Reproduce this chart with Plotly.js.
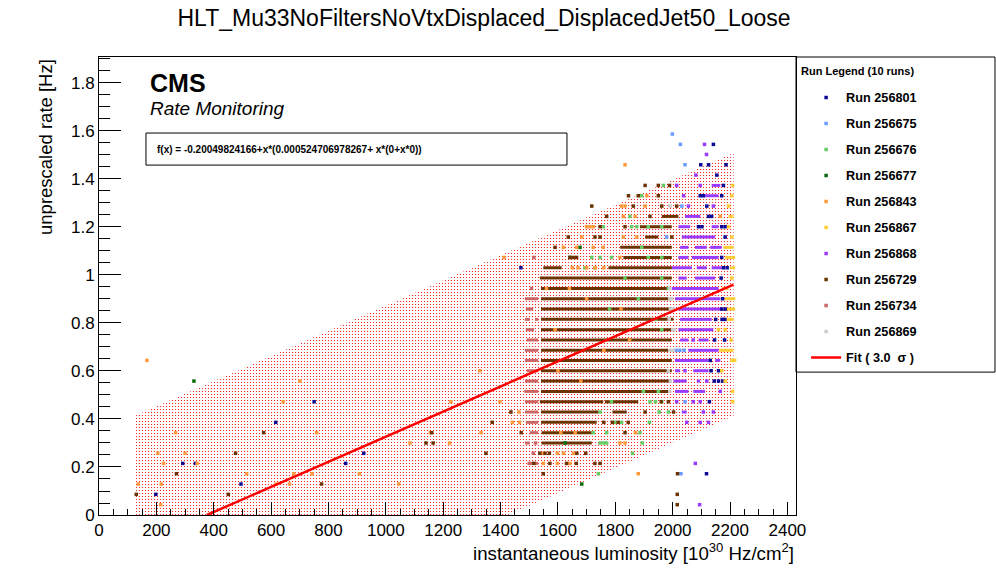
<!DOCTYPE html>
<html>
<head>
<meta charset="utf-8">
<script src="https://cdn.plot.ly/plotly-3.0.1.min.js"></script>
<style>
  html, body { margin: 0; padding: 0; background: #fff; }
  #chart { width: 996px; height: 572px; }
</style>
</head>
<body>
<div id="chart"></div>
<script>
// runs, in legend order
const runs = ['256801', '256675', '256676', '256677', '256843', '256867', '256868', '256729', '256734', '256869'];
const runColors = ['#0a0a96', '#6a9cff', '#66cc66', '#0b6b0b', '#ff9a3c', '#ffcc33', '#9a3cff', '#6b3300', '#cc6666', '#cccccc'];

// fit line and its 3 sigma band
const fitX = [376, 2212];
const fitY = [0.0, 0.960];
const bandX = [127, 127, 2212, 2212, 127];
const bandY = [-0.682, 0.414, 1.508, 0.412, -0.682];

// dense rows drawn as runs of adjacent points: rate, first lumi, last lumi
const r256729Rate = [0.300, 0.343, 0.386, 0.429, 0.429, 0.472, 0.472, 0.515, 0.558, 0.601, 0.644, 0.686, 0.729, 0.772, 0.815, 0.858, 0.901, 0.944, 0.987, 1.030, 1.030, 1.073, 1.115, 1.158, 1.201, 1.244];
const r256729From = [1543, 1543, 1541, 1541, 1790, 1537, 1764, 1541, 1541, 1541, 1541, 1541, 1541, 1541, 1541, 1541, 1541, 1541, 1537, 1549, 1776, 1828, 1817, 1904, 1886, 1962];
const r256729To   = [1718, 1718, 1735, 1741, 1840, 1758, 1880, 1990, 1992, 1997, 1997, 1985, 1997, 2008, 2003, 1997, 1992, 1992, 1997, 1613, 1997, 1997, 1997, 1950, 1997, 2020];

const r256734Rate = [0.215, 0.300, 0.343, 0.386, 0.429, 0.472, 0.515, 0.558, 0.601, 0.644, 0.686, 0.729, 0.772, 0.815, 0.815, 0.858, 0.901];
const r256734From = [1502, 1485, 1502, 1488, 1485, 1485, 1483, 1485, 1491, 1485, 1485, 1491, 1488, 1485, 1520, 1488, 1485];
const r256734To   = [1531, 1502, 1531, 1531, 1531, 1531, 1531, 1531, 1531, 1531, 1531, 1531, 1517, 1502, 1531, 1514, 1531];

const r256868Rate = [0.429, 0.515, 0.515, 0.558, 0.558, 0.601, 0.601, 0.644, 0.644, 0.686, 0.729, 0.729, 0.772, 0.815, 0.858, 0.901, 0.944, 0.987, 0.987, 1.030, 1.030, 1.030, 1.073, 1.073, 1.115, 1.115, 1.115, 1.158, 1.201, 1.201, 1.244, 1.330, 1.373];
const r256868From = [2032, 2008, 2072, 2003, 2084, 2008, 2072, 2008, 2148, 2055, 2026, 2090, 2020, 2026, 2020, 2008, 1997, 2020, 2078, 1997, 2084, 2136, 2020, 2067, 2026, 2078, 2131, 2032, 2020, 2136, 2043, 2113, 2136];
const r256868To   = [2049, 2055, 2113, 2049, 2096, 2026, 2125, 2125, 2166, 2160, 2055, 2125, 2142, 2136, 2171, 2166, 2160, 2049, 2148, 2067, 2119, 2171, 2055, 2160, 2055, 2119, 2171, 2148, 2061, 2160, 2096, 2160, 2166];

const r256867Rate = [0.686, 0.815, 0.858, 0.901, 0.944, 1.030, 1.073, 1.115, 1.244];
const r256867From = [2162, 2187, 2187, 2181, 2171, 2200, 2183, 2177, 2195];
const r256867To   = [2212, 2212, 2218, 2218, 2195, 2218, 2218, 2212, 2212];

// single points per run: lumi, rate
const r256801X = [2142, 2098, 2125, 2186, 2154, 2177, 2096, 2107, 2171, 2119, 2125, 2136, 2090, 2102, 2171, 2183, 2183, 2171, 2177, 2190, 1471, 2169, 2174, 2171, 2183, 2150, 2172, 2182, 2146, 2181, 2131, 2134, 2160, 2145, 2160, 2175, 2128, 2118, 616, 750, 923, 292, 336, 860, 495, 198];
const r256801Y = [1.544, 1.459, 1.459, 1.459, 1.416, 1.373, 1.330, 1.330, 1.330, 1.287, 1.244, 1.244, 1.201, 1.201, 1.201, 1.201, 1.158, 1.073, 1.030, 1.030, 1.030, 0.987, 0.901, 0.858, 0.858, 0.815, 0.815, 0.815, 0.729, 0.729, 0.644, 0.601, 0.601, 0.558, 0.558, 0.558, 0.472, 0.172, 0.386, 0.472, 0.257, 0.215, 0.215, 0.215, 0.129, 0.086];

const r256675X = [1999, 2027, 2043, 2032, 1979, 2012, 2025, 2040, 2043, 2029];
const r256675Y = [1.587, 1.544, 1.459, 1.287, 1.158, 0.686, 0.686, 0.686, 0.472, 0.172];

const r256676X = [1892, 1968, 1851, 1758, 1857, 1875, 1915, 1962, 1892, 1718, 1747, 1787, 1915, 1962, 1694, 1729, 1834, 1962, 1985, 1962, 1898, 1950, 1921, 1940, 1962, 1787, 1953, 1985, 1747, 1919, 1799, 1822, 1723, 1770, 1886, 1747, 1760, 1770, 1894, 1860, 1741, 1880, 1780, 1940];
const r256676Y = [1.330, 1.373, 1.244, 1.201, 1.201, 1.201, 1.201, 1.201, 1.115, 1.073, 1.073, 1.073, 1.073, 1.073, 1.030, 1.030, 0.987, 0.987, 0.944, 0.772, 0.515, 0.515, 0.472, 0.472, 0.472, 0.472, 0.429, 0.429, 0.429, 0.386, 0.386, 0.386, 0.343, 0.343, 0.343, 0.300, 0.300, 0.300, 0.300, 0.257, 0.172, 0.901, 0.858, 0.815];

const r256677X = [331, 1683, 1642, 1677, 1625];
const r256677Y = [0.558, 0.129, 1.073, 1.115, 0.300];

const r256843X = [167, 700, 642, 1227, 267, 759, 1155, 1332, 1084, 1222, 205, 300, 225, 342, 515, 679, 743, 908, 137, 217, 617, 664, 1045, 215, 1328, 1398, 1441, 1466, 1412,
  1834, 1910, 1822, 1834, 1904, 1828, 1869, 2166, 1700, 1712, 1723, 1683, 1828, 1875, 1619, 1665, 1723, 1758, 1816, 1650, 1670, 1700, 1730, 1760, 1464, 1549, 1598, 1619, 1654, 1549, 1598, 1642, 1880, 1816, 1834, 1610, 1660, 1870, 1560, 1640, 1700, 1820, 1600, 1680, 1760, 1590, 1850];
const r256843Y = [0.644, 0.558, 0.472, 0.472, 0.343, 0.343, 0.343, 0.343, 0.300, 0.300, 0.257, 0.257, 0.215, 0.215, 0.172, 0.172, 0.172, 0.172, 0.129, 0.129, 0.129, 0.129, 0.129, 0.043, 0.601, 0.472, 0.386, 0.386, 1.073,
  1.459, 1.330, 1.287, 1.287, 1.287, 1.244, 1.244, 1.244, 1.201, 1.201, 1.201, 1.158, 1.158, 1.158, 1.115, 1.115, 1.115, 1.115, 1.073, 1.030, 1.030, 1.030, 1.030, 1.030, 0.429, 0.257, 0.257, 0.257, 0.257, 0.215, 0.215, 0.215, 0.172, 0.300, 0.300, 0.343, 0.343, 0.343, 0.944, 0.944, 0.901, 0.858, 0.601, 0.558, 0.686, 0.772, 0.729];

const r256867X = [2160, 2183, 2204, 2206, 2216, 2171, 2183, 2209, 2209, 2206, 2206, 2195, 2195, 2206, 2209];
const r256867Y = [0.772, 0.772, 0.729, 0.644, 0.644, 0.601, 0.558, 0.515, 0.472, 0.987, 1.158, 1.201, 1.287, 1.330, 1.373];

const r256868X = [2043, 2119, 2166, 2014, 2072, 2096, 2107, 2142, 2049, 2096, 2125, 2079, 2094, 2072, 2055, 2142, 2038, 2014, 2096, 2081, 2118, 2111];
const r256868Y = [0.601, 0.558, 0.515, 0.472, 0.472, 0.472, 0.429, 0.429, 0.386, 0.386, 0.386, 0.215, 0.043, 0.729, 1.287, 1.287, 1.330, 1.373, 1.373, 1.416, 1.502, 1.544];

const r256729X = [1760, 1790, 1810, 1845, 1904, 1950, 1989, 1846, 1880, 1950, 1718, 1863, 1962, 2014, 1770, 1921, 1747, 1834, 1636, 1729, 1747, 1997, 1590, 1642, 1654, 1665,
  130, 451, 270, 476, 574, 1140, 1165, 1160, 776, 1349, 1371, 1436, 1472, 1549, 1572, 1630, 1664, 1729, 1747, 2016, 2016, 2017, 1537, 1555, 1570, 1666, 1697, 1834, 1960, 1985, 1904, 2003, 1516];
const r256729Y = [0.386, 0.386, 0.386, 0.386, 1.373, 1.373, 1.373, 1.330, 1.330, 1.330, 1.287, 1.287, 1.287, 1.287, 1.244, 1.244, 1.201, 1.201, 1.158, 1.158, 1.158, 1.158, 1.115, 1.073, 1.073, 1.073,
  0.086, 0.086, 0.172, 0.257, 0.343, 0.300, 0.300, 0.343, 0.129, 0.257, 0.386, 0.429, 0.343, 0.172, 0.215, 0.215, 0.215, 0.215, 0.215, 0.043, 0.086, 0.172, 0.257, 0.257, 0.257, 0.257, 0.257, 0.343, 0.472, 0.472, 0.429, 0.429, 0.215];

const r256734X = [1522, 1514, 1508, 1516, 1500];
const r256734Y = [0.300, 0.257, 0.944, 1.073, 0.215];

const r256869X = [1991, 1990, 1997, 1992, 2003, 1992, 2003, 1992, 1985, 2000, 1990, 1990, 1988, 2005];
const r256869Y = [1.287, 0.901, 0.901, 0.858, 0.858, 0.686, 0.686, 0.558, 0.601, 0.772, 0.944, 0.515, 0.815, 0.772];

const pointsX = [r256801X, r256675X, r256676X, r256677X, r256843X, r256867X, r256868X, r256729X, r256734X, r256869X];
const pointsY = [r256801Y, r256675Y, r256676Y, r256677Y, r256843Y, r256867Y, r256868Y, r256729Y, r256734Y, r256869Y];
const streaks = {
  '256729': [r256729Rate, r256729From, r256729To],
  '256734': [r256734Rate, r256734From, r256734To],
  '256868': [r256868Rate, r256868From, r256868To],
  '256867': [r256867Rate, r256867From, r256867To],
};

const FONT = 'Liberation Sans, Arial, Helvetica, sans-serif';

const traces = [];
traces.push({
  type: 'scatter', mode: 'lines', x: bandX, y: bandY, fill: 'toself',
  fillcolor: 'rgba(0,0,0,0)',
  fillpattern: {shape: '.', fgcolor: '#ff0000', bgcolor: 'rgba(0,0,0,0)', size: 3, solidity: 0.13},
  line: {width: 0}, showlegend: false, hoverinfo: 'skip',
});

// rows first, so single points land on top of them
runs.forEach((run, i) => {
  if (!streaks[run]) return;
  const [rate, from, to] = streaks[run];
  const x = [], y = [];
  rate.forEach((r, j) => { x.push(from[j], to[j], null); y.push(r, r, null); });
  traces.push({
    type: 'scatter', mode: 'lines', x, y, line: {color: runColors[i], width: 3},
    legendgroup: run, legendrank: 100 + i, showlegend: false, hoverinfo: 'skip',
  });
});

runs.forEach((run, i) => {
  traces.push({
    type: 'scatter', mode: 'markers', name: 'Run ' + run, x: pointsX[i], y: pointsY[i],
    marker: {symbol: 'square', size: 3.5, color: runColors[i], line: {width: 0}},
    legendgroup: run, legendrank: 100 + i,
  });
});

traces.push({
  type: 'scatter', mode: 'lines', name: 'Fit ( 3.0  \u03c3 )', x: fitX, y: fitY,
  line: {color: '#ff0000', width: 2.5}, legendgroup: 'fit', legendrank: 200,
});

const layout = {
  width: 996, height: 572,
  margin: {l: 99, r: 200, t: 57, b: 57},
  paper_bgcolor: '#fff', plot_bgcolor: '#fff',
  font: {family: FONT, color: '#000'},
  showlegend: true,
  hovermode: false,
  title: {
    text: 'HLT_Mu33NoFiltersNoVtxDisplaced_DisplacedJet50_Loose',
    font: {size: 23, color: '#000'}, x: 0.486, xanchor: 'center', y: 0.968, yanchor: 'middle',
  },
  xaxis: {
    range: [0, 2430], tick0: 0, dtick: 200,
    ticks: 'inside', ticklen: 13, tickwidth: 1, tickcolor: '#000',
    minor: {ticks: 'inside', ticklen: 6, dtick: 50, tickcolor: '#000', showgrid: false},
    showline: true, linecolor: '#000', linewidth: 1, mirror: true,
    showgrid: false, zeroline: false, tickfont: {size: 17},
  },
  yaxis: {
    range: [0, 1.908], tick0: 0, dtick: 0.2,
    ticks: 'inside', ticklen: 22, tickwidth: 1, tickcolor: '#000',
    minor: {ticks: 'inside', ticklen: 11, dtick: 0.05, tickcolor: '#000', showgrid: false},
    showline: true, linecolor: '#000', linewidth: 1, mirror: true,
    showgrid: false, zeroline: false, tickfont: {size: 17},
  },
  legend: {
    x: 1.0145, xanchor: 'left', y: 0.944, yanchor: 'top',
    bgcolor: 'rgba(0,0,0,0)', borderwidth: 0,
    traceorder: 'grouped', tracegroupgap: 6.5,
    font: {size: 12.7, weight: 'bold'},
  },
  shapes: [
    {type: 'rect', xref: 'paper', yref: 'paper', x0: 1.0, x1: 1.2855, y0: 0.312, y1: 1.0,
     line: {color: '#000', width: 1}},
    {type: 'rect', xref: 'paper', yref: 'paper', x0: 0.0674, x1: 0.6714, y0: 0.764, y1: 0.834,
     line: {color: '#000', width: 1}},
  ],
  annotations: [
    {text: '<b>Run Legend (10 runs)</b>', xref: 'paper', yref: 'paper', x: 1.0043, y: 0.969, xanchor: 'left', yanchor: 'middle',
     showarrow: false, font: {size: 11}},
    {text: '<b>CMS</b>', xref: 'paper', yref: 'paper', x: 0.0700, y: 0.944, xanchor: 'left', yanchor: 'middle',
     showarrow: false, font: {size: 25}},
    {text: '<i>Rate Monitoring</i>', xref: 'paper', yref: 'paper', x: 0.0700, y: 0.887, xanchor: 'left', yanchor: 'middle',
     showarrow: false, font: {size: 19}},
    {text: '<b>f(x) = -0.20049824166+x*(0.000524706978267+ x*(0+x*0))</b>', xref: 'paper', yref: 'paper',
     x: 0.0803, y: 0.797, xanchor: 'left', yanchor: 'middle', showarrow: false, font: {size: 10}},
    {text: 'unprescaled rate [Hz]', xref: 'paper', yref: 'paper', x: -0.0775, y: 1.0, xanchor: 'center', yanchor: 'top',
     textangle: -90, showarrow: false, font: {size: 18.5}},
    {text: 'instantaneous luminosity [10<sup>30</sup> Hz/cm<sup>2</sup>]', xref: 'paper', yref: 'paper',
     x: 1.0, y: -0.081, xanchor: 'right', yanchor: 'middle', showarrow: false, font: {size: 18.7}},
  ],
};

Plotly.newPlot('chart', traces, layout, {staticPlot: true, displayModeBar: false});
</script>
</body>
</html>
